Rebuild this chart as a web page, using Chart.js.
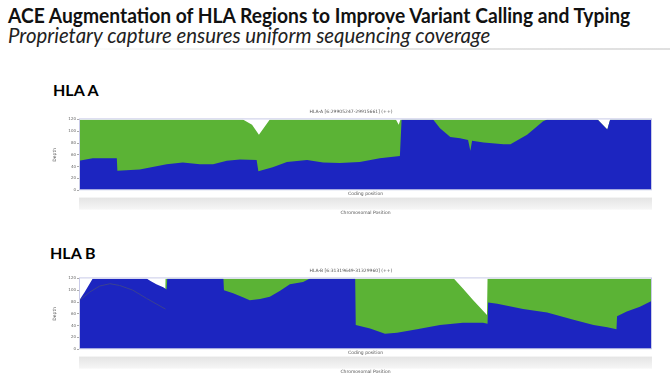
<!DOCTYPE html>
<html>
<head>
<meta charset="utf-8">
<script src="https://cdn.jsdelivr.net/npm/chart.js@4"></script>
<style>
  body { margin: 0; background: #fff; width: 670px; height: 375px; overflow: hidden; position: relative; font-family: Lato, "Open Sans", sans-serif; }
  .title { position: absolute; left: 8px; top: 4px; font-weight: bold; font-size: 21px; line-height: 1; color: #111; white-space: nowrap; transform: scaleX(0.916); transform-origin: left top; }
  .subtitle { position: absolute; left: 8px; top: 25px; font-style: italic; font-size: 20.4px; line-height: 1; color: #222; white-space: nowrap; }
  .rule { position: absolute; left: 60px; top: 48px; width: 610px; height: 2px; background: linear-gradient(to right, rgba(230,230,230,0), #e6e6e6 40%, #e0e0e0); }
  .heading { position: absolute; font-weight: bold; font-size: 16px; color: #000; }
  canvas { position: absolute; }
</style>
</head>
<body>
<div class="title">ACE Augmentation of HLA Regions to Improve Variant Calling and Typing</div>
<div class="subtitle">Proprietary capture ensures uniform sequencing coverage</div>
<div class="rule"></div>
<div class="heading" style="left:53px; top:80px;">HLA A</div>
<div class="heading" style="left:50px; top:243px;">HLA B</div>
<canvas id="chartA" width="610" height="112" style="left:50px; top:104px;"></canvas>
<canvas id="chartB" width="610" height="112" style="left:50px; top:263px;"></canvas>
<script>
// coding position scaled 0..1000, depth in reads
const posA_blue = [0, 24, 66, 67, 106, 153, 181, 211, 234, 258, 281, 310, 313, 338, 363, 398, 426, 455, 490, 525, 560, 563, 618, 630, 648, 665, 679, 683, 686, 706, 741, 753, 782, 810, 817, 905, 922, 927, 1000];
const depthA_blue = [50, 54, 54, 33, 35, 44, 47, 44, 44, 50, 52, 51, 32, 39, 48, 51, 47, 46, 48, 54, 58, 120, 120, 105, 90, 88, 85, 67, 84, 81, 78, 78, 94, 117, 120, 120, 103, 120, 120];
const posA_green = [0, 286, 302, 314, 333, 553, 558, 561, 905, 922, 927, 1000];
const depthA_green = [120, 120, 111, 94, 120, 120, 111, 120, 120, 103, 120, 120];

const posB_blue = [0, 10, 24, 118, 124, 135, 147, 153, 154, 252, 253, 269, 286, 298, 316, 333, 351, 368, 391, 403, 482, 483, 508, 534, 555, 590, 630, 670, 705, 713, 714, 730, 775, 817, 863, 898, 922, 938, 939, 956, 979, 1000];
const depthB_blue = [82, 97, 120, 120, 116, 110, 105, 101, 120, 120, 100, 95, 88, 83, 85, 89, 99, 110, 114, 120, 120, 41, 35, 26, 28, 34, 41, 45, 45, 43, 79, 77, 68, 62, 50, 41, 37, 34, 56, 64, 72, 82];
const posB_green = [0, 19, 36, 54, 71, 94, 118, 150, 151, 654, 670, 688, 712, 713, 1000];
const depthB_green = [82, 97, 107, 111, 108, 100, 86, 68, 120, 120, 103, 83, 58, 120, 120];
const posB_line = [0, 19, 36, 54, 71, 94, 118, 151];
const depthB_line = [82, 97, 107, 111, 108, 100, 86, 68];

const yTicks = [0, 20, 40, 60, 80, 100, 120];

const BLUE = '#1c25c0';
const GREEN = '#5bb335';

function pts(xs, ys) {
    return xs.map(function (x, i) { return { x: x, y: ys[i] }; });
}

function area(data, color) {
    return {
        data: data,
        borderWidth: 0,
        borderColor: color,
        backgroundColor: color,
        fill: 'origin',
        pointRadius: 0,
        tension: 0
    };
}

// light band between the coding and chromosomal axes, plus a thin panel outline
const panelDecor = {
    id: 'panelDecor',
    beforeDraw: function (chart) {
        const ctx = chart.ctx;
        const a = chart.chartArea;
        const top = chart.scales.x.bottom + 1;
        const g = ctx.createLinearGradient(0, top, 0, top + 12);
        g.addColorStop(0, '#e4e4e4');
        g.addColorStop(1, '#f6f6f6');
        ctx.save();
        ctx.fillStyle = g;
        ctx.fillRect(a.left, top, a.right - a.left, 12);
        ctx.restore();
    },
    afterDraw: function (chart) {
        const ctx = chart.ctx;
        const a = chart.chartArea;
        ctx.save();
        ctx.strokeStyle = '#c9cbe8';
        ctx.lineWidth = 1;
        ctx.strokeRect(a.left + 0.5, a.top - 0.5, a.right - a.left - 1, a.bottom - a.top);
        ctx.restore();
    }
};

function makeChart(id, title, datasets) {
    return new Chart(document.getElementById(id).getContext('2d'), {
        type: 'line',
        data: { datasets: datasets },
        options: {
            responsive: false,
            animation: false,
            layout: { padding: { right: 8, left: 0, top: 0, bottom: 0 } },
            plugins: {
                legend: { display: false },
                tooltip: { enabled: false },
                title: {
                    display: true,
                    text: title,
                    color: '#555',
                    font: { size: 4.5, family: 'DejaVu Sans', weight: 'normal' },
                    padding: { top: 5, bottom: 5 }
                }
            },
            scales: {
                x: {
                    type: 'linear', min: 0, max: 1000,
                    ticks: { display: false },
                    grid: { display: false, drawTicks: false },
                    border: { display: false },
                    title: { display: true, text: 'Coding position', color: '#555', font: { size: 4.5, family: 'DejaVu Sans' }, padding: { top: 1, bottom: 0 } }
                },
                x2: {
                    type: 'linear', min: 0, max: 1000, position: 'bottom',
                    ticks: { display: false },
                    grid: { display: false, drawTicks: false },
                    border: { display: false },
                    title: { display: true, text: 'Chromosomal Position', color: '#555', font: { size: 4.5, family: 'DejaVu Sans' }, padding: { top: 14, bottom: 0 } }
                },
                y: {
                    min: 0, max: 120,
                    afterBuildTicks: function (s) { s.ticks = yTicks.map(function (v) { return { value: v }; }); },
                    afterFit: function (s) { s.width = 29; },
                    ticks: { color: '#666', font: { size: 4, family: 'DejaVu Sans' }, padding: 1 },
                    grid: { display: true, drawOnChartArea: false, tickLength: 2, color: '#aaa' },
                    border: { display: false },
                    title: { display: true, text: 'Depth', color: '#555', font: { size: 4.5, family: 'DejaVu Sans' }, padding: 2 }
                }
            }
        },
        plugins: [panelDecor]
    });
}

makeChart('chartA', 'HLA-A [6:29905247-29915661] (++)', [
    area(pts(posA_blue, depthA_blue), BLUE),
    area(pts(posA_green, depthA_green), GREEN)
]);

makeChart('chartB', 'HLA-B [6:31319649-31329960] (++)', [
    {
        data: pts(posB_line, depthB_line),
        borderColor: '#3b4290',
        borderWidth: 1,
        fill: false,
        pointRadius: 0,
        tension: 0
    },
    area(pts(posB_blue, depthB_blue), BLUE),
    area(pts(posB_green, depthB_green), GREEN)
]);
</script>
</body>
</html>
